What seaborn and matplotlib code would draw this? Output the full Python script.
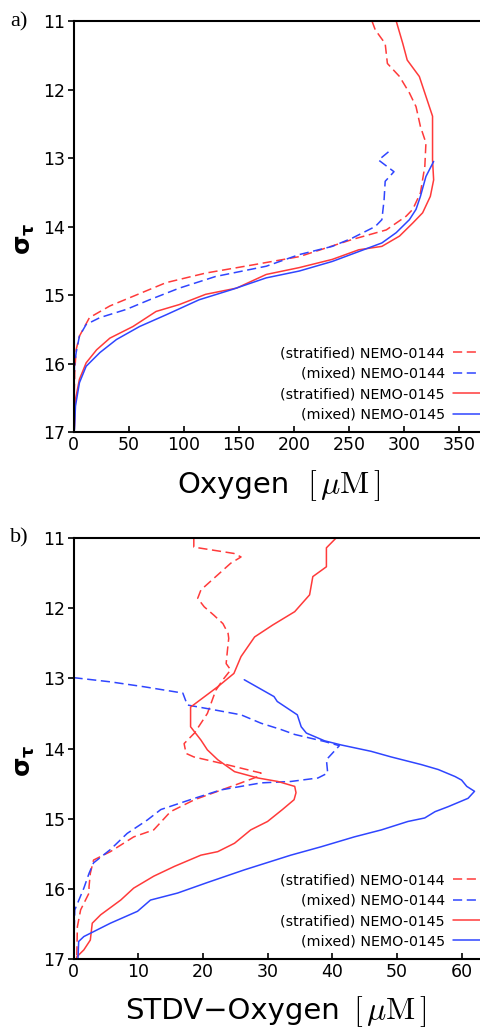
import numpy as np
import pandas as pd
import matplotlib
matplotlib.use("Agg")
import matplotlib.pyplot as plt
from matplotlib.lines import Line2D
import seaborn as sns

# ---------------- data: panel a, mean oxygen [uM] vs sigma_t ----------------
a_strat_0144_sig = [11.00, 11.13, 11.33, 11.62, 11.81, 12.05, 12.25, 12.54, 12.78, 13.12,
                    13.51, 13.75, 13.85, 14.05, 14.19, 14.44, 14.56, 14.68, 14.82, 15.02,
                    15.16, 15.33, 15.60, 15.80, 16.10, 16.50, 17.00]
a_strat_0144_oxy = [271, 274, 283, 285, 296, 305, 311, 315, 320, 319,
                    315, 308, 302, 284, 253, 205, 163, 120, 84, 54,
                    33, 14.5, 5.4, 2.4, 1.2, 0.6, 0.3]

a_mixed_0144_sig = [12.91, 13.03, 13.20, 13.34, 13.61, 13.90, 14.00, 14.17, 14.29, 14.41,
                    14.58, 14.73, 14.90, 15.07, 15.21, 15.33, 15.43, 15.60, 15.84, 16.04,
                    16.50, 17.00]
a_mixed_0144_oxy = [286, 277, 291, 283, 282, 280, 274, 253, 235, 205,
                    175, 129, 96, 69, 48, 24, 11.5, 5.4, 2.4, 0.9,
                    0.4, 0.2]

a_strat_0145_sig = [11.00, 11.33, 11.57, 11.81, 12.10, 12.39, 13.03, 13.32, 13.56, 13.80,
                    13.95, 14.14, 14.29, 14.34, 14.48, 14.60, 14.70, 14.90, 14.99, 15.14,
                    15.24, 15.46, 15.63, 15.80, 15.99, 16.23, 16.52, 16.91, 17.00]
a_strat_0145_oxy = [293, 299, 303, 314, 320, 326, 326, 327, 324, 317,
                    308, 296, 280, 259, 235, 205, 175, 148, 120, 96,
                    75, 54, 33, 21, 11.5, 5.4, 1.8, 0.9, 0.5]

a_mixed_0145_sig = [13.05, 13.27, 13.56, 13.75, 13.90, 14.09, 14.24, 14.51, 14.65, 14.75,
                    14.92, 15.07, 15.29, 15.46, 15.65, 15.84, 16.04, 16.28, 16.62, 16.96,
                    17.00]
a_mixed_0145_oxy = [327, 320, 315, 311, 305, 293, 280, 235, 205, 175,
                    144, 114, 84, 60, 39, 24, 11.5, 5.4, 1.8, 0.9,
                    0.5]

# ---------------- data: panel b, oxygen standard deviation [uM] ----------------
b_strat_0144_sig = [11.00, 11.13, 11.22, 11.27, 11.36, 11.74, 11.86, 11.98, 12.10, 12.22,
                    12.36, 12.43, 12.60, 12.79, 12.88, 13.02, 13.17, 13.50, 13.78, 13.93,
                    14.07, 14.12, 14.21, 14.28, 14.35, 14.40, 14.49, 14.61, 14.73, 14.90,
                    15.16, 15.26, 15.47, 15.59, 15.78, 15.97, 16.06, 16.30, 16.54, 17.00]
b_strat_0144_std = [18.6, 18.6, 24.8, 25.9, 24.3, 19.7, 19.2, 20.2, 21.7, 23.1,
                    23.9, 24.0, 23.8, 23.6, 24.3, 23.1, 22.0, 20.7, 18.7, 17.1,
                    17.4, 18.6, 22.8, 25.9, 29.0, 28.5, 25.9, 22.3, 18.7, 15.0,
                    12.4, 9.3, 5.7, 3.1, 2.6, 2.4, 2.4, 1.1, 0.6, 0.5]

b_mixed_0144_sig = [12.99, 13.05, 13.12, 13.21, 13.38, 13.45, 13.52, 13.64, 13.73, 13.80,
                    13.90, 13.96, 14.04, 14.16, 14.35, 14.42, 14.47, 14.49, 14.54, 14.59,
                    14.71, 14.87, 15.02, 15.21, 15.44, 15.63, 15.78, 15.99, 16.30, 17.00]
b_mixed_0144_std = [0.0, 5.7, 10.9, 16.9, 17.6, 21.8, 25.9, 29.0, 32.1, 34.2,
                    38.8, 41.1, 40.3, 39.1, 39.3, 37.8, 33.6, 29.0, 25.9, 22.8,
                    18.7, 13.5, 11.4, 8.3, 5.7, 3.1, 2.4, 1.6, 0.2, 0.0]

b_strat_0145_sig = [11.00, 11.14, 11.41, 11.55, 11.81, 12.05, 12.24, 12.41, 12.69, 12.93,
                    13.12, 13.41, 13.69, 13.88, 14.02, 14.16, 14.33, 14.42, 14.47, 14.54,
                    14.63, 14.73, 14.87, 15.04, 15.16, 15.35, 15.47, 15.52, 15.68, 15.82,
                    15.99, 16.16, 16.37, 16.49, 16.73, 16.87, 16.97, 17.00]
b_strat_0145_std = [40.6, 39.1, 39.1, 37.0, 36.5, 34.2, 30.8, 28.0, 25.9, 24.8,
                    22.3, 18.1, 18.1, 19.7, 20.7, 22.3, 24.9, 28.5, 31.6, 34.2,
                    34.4, 34.1, 32.3, 30.0, 27.4, 24.9, 22.3, 19.7, 15.6, 12.4,
                    9.3, 7.3, 4.2, 2.9, 2.6, 1.6, 0.5, 0.5]

b_mixed_0145_sig = [13.02, 13.26, 13.33, 13.52, 13.69, 13.78, 13.89, 13.95, 14.04, 14.12,
                    14.23, 14.30, 14.40, 14.45, 14.54, 14.61, 14.71, 14.83, 14.90, 14.99,
                    15.04, 15.16, 15.26, 15.40, 15.52, 15.73, 15.91, 16.06, 16.16, 16.32,
                    16.49, 16.68, 16.75, 16.98]
b_mixed_0145_std = [26.4, 31.0, 31.5, 34.6, 35.2, 36.0, 38.8, 41.4, 46.0, 49.1,
                    53.8, 56.4, 59.0, 60.0, 60.8, 62.0, 61.0, 57.9, 55.9, 54.3,
                    51.7, 47.6, 43.4, 38.3, 33.6, 26.4, 20.7, 16.1, 11.9, 9.9,
                    5.7, 1.6, 0.8, 0.7]

series_labels = ["(stratified) NEMO-0144", "(mixed) NEMO-0144",
                 "(stratified) NEMO-0145", "(mixed) NEMO-0145"]
y_ticks = [11, 12, 13, 14, 15, 16, 17]
a_x_ticks = [0, 50, 100, 150, 200, 250, 300, 350]
b_x_ticks = [0, 10, 20, 30, 40, 50, 60]

RED = "#ff3a3a"
BLUE = "#2f45ff"
styles = [(RED, (6, 3)), (BLUE, (6, 3)), (RED, ""), (BLUE, "")]

sns.set_style("white")
plt.rcParams["font.family"] = ["DejaVu Sans"]
for key in ["text.color", "axes.labelcolor", "xtick.color", "ytick.color"]:
    plt.rcParams[key] = "black"

W, H = 481, 1027
fig = plt.figure(figsize=(W / 100, H / 100), dpi=100)
ax_a = fig.add_axes([73.5 / W, 1 - 432 / H, 1 - 73.5 / W, 411 / H])
ax_b = fig.add_axes([73.5 / W, 1 - 959 / H, 1 - 73.5 / W, 421 / H])


def draw_panel(ax, sets, xlim, xticks, leg_bottom):
    for (sig, val), (col, dash) in zip(sets, styles):
        df = pd.DataFrame({"val": val, "sig": sig})
        sns.lineplot(data=df, x="val", y="sig", sort=False, estimator=None,
                     color=col, lw=1.1, ax=ax, dashes=False)
        if dash:
            ax.lines[-1].set_dashes(dash)
    ax.set_xlim(*xlim)
    ax.set_ylim(17, 11)
    ax.set_yticks(y_ticks)
    ax.set_xticks(xticks)
    for side in ["left", "bottom", "top"]:
        ax.spines[side].set_visible(True)
        ax.spines[side].set_color("black")
        ax.spines[side].set_linewidth(1.5)
    ax.spines["right"].set_visible(False)
    ax.tick_params(axis="y", direction="out", length=4, width=1.2,
                   labelsize=12.5, pad=2, left=True)
    ax.tick_params(axis="x", direction="in", length=4, width=1.2,
                   labelsize=12.5, pad=3, bottom=True)
    ax.set_xlabel("")
    ax.set_ylabel(r"$\mathbf{\sigma_{\tau}}$", fontsize=18, rotation=90,
                  math_fontfamily="dejavusans")
    ax.yaxis.set_label_coords(-0.09, 0.47)
    handles = [Line2D([], [], color=c, lw=1.1, dashes=d if d else (None, None))
               for c, d in styles]
    ax.legend(handles, series_labels, loc="lower right",
              bbox_to_anchor=(1.025, leg_bottom), frameon=False,
              markerfirst=False, fontsize=10.3, handlelength=2.7,
              handletextpad=0.55, labelspacing=0.45, borderpad=0,
              borderaxespad=0)


draw_panel(ax_a,
           [(a_strat_0144_sig, a_strat_0144_oxy), (a_mixed_0144_sig, a_mixed_0144_oxy),
            (a_strat_0145_sig, a_strat_0145_oxy), (a_mixed_0145_sig, a_mixed_0145_oxy)],
           (0, 370), a_x_ticks, 0.025)
draw_panel(ax_b,
           [(b_strat_0144_sig, b_strat_0144_std), (b_mixed_0144_sig, b_mixed_0144_std),
            (b_strat_0145_sig, b_strat_0145_std), (b_mixed_0145_sig, b_mixed_0145_std)],
           (0, 63), b_x_ticks, 0.025)

# axis titles: sans word followed by a serif unit bracket
fig.text(177 / W, 1 - 493 / H, "Oxygen", fontsize=21, va="baseline", ha="left")
fig.text(307 / W, 1 - 493 / H, r"$[\,\mu\mathrm{M}\,]$", fontsize=23,
         va="baseline", ha="left", math_fontfamily="cm")
fig.text(125 / W, 1 - 1019 / H, "STDV\u2212Oxygen", fontsize=21,
         va="baseline", ha="left")
fig.text(353 / W, 1 - 1019 / H, r"$[\,\mu\mathrm{M}\,]$", fontsize=23,
         va="baseline", ha="left", math_fontfamily="cm")

fig.text(10 / W, 1 - 22 / H, "a)", fontsize=16, va="center", ha="left",
         family=["Liberation Serif", "DejaVu Serif"])
fig.text(10 / W, 1 - 538 / H, "b)", fontsize=16, va="center", ha="left",
         family=["Liberation Serif", "DejaVu Serif"])

fig.savefig("out.png", dpi=100)
